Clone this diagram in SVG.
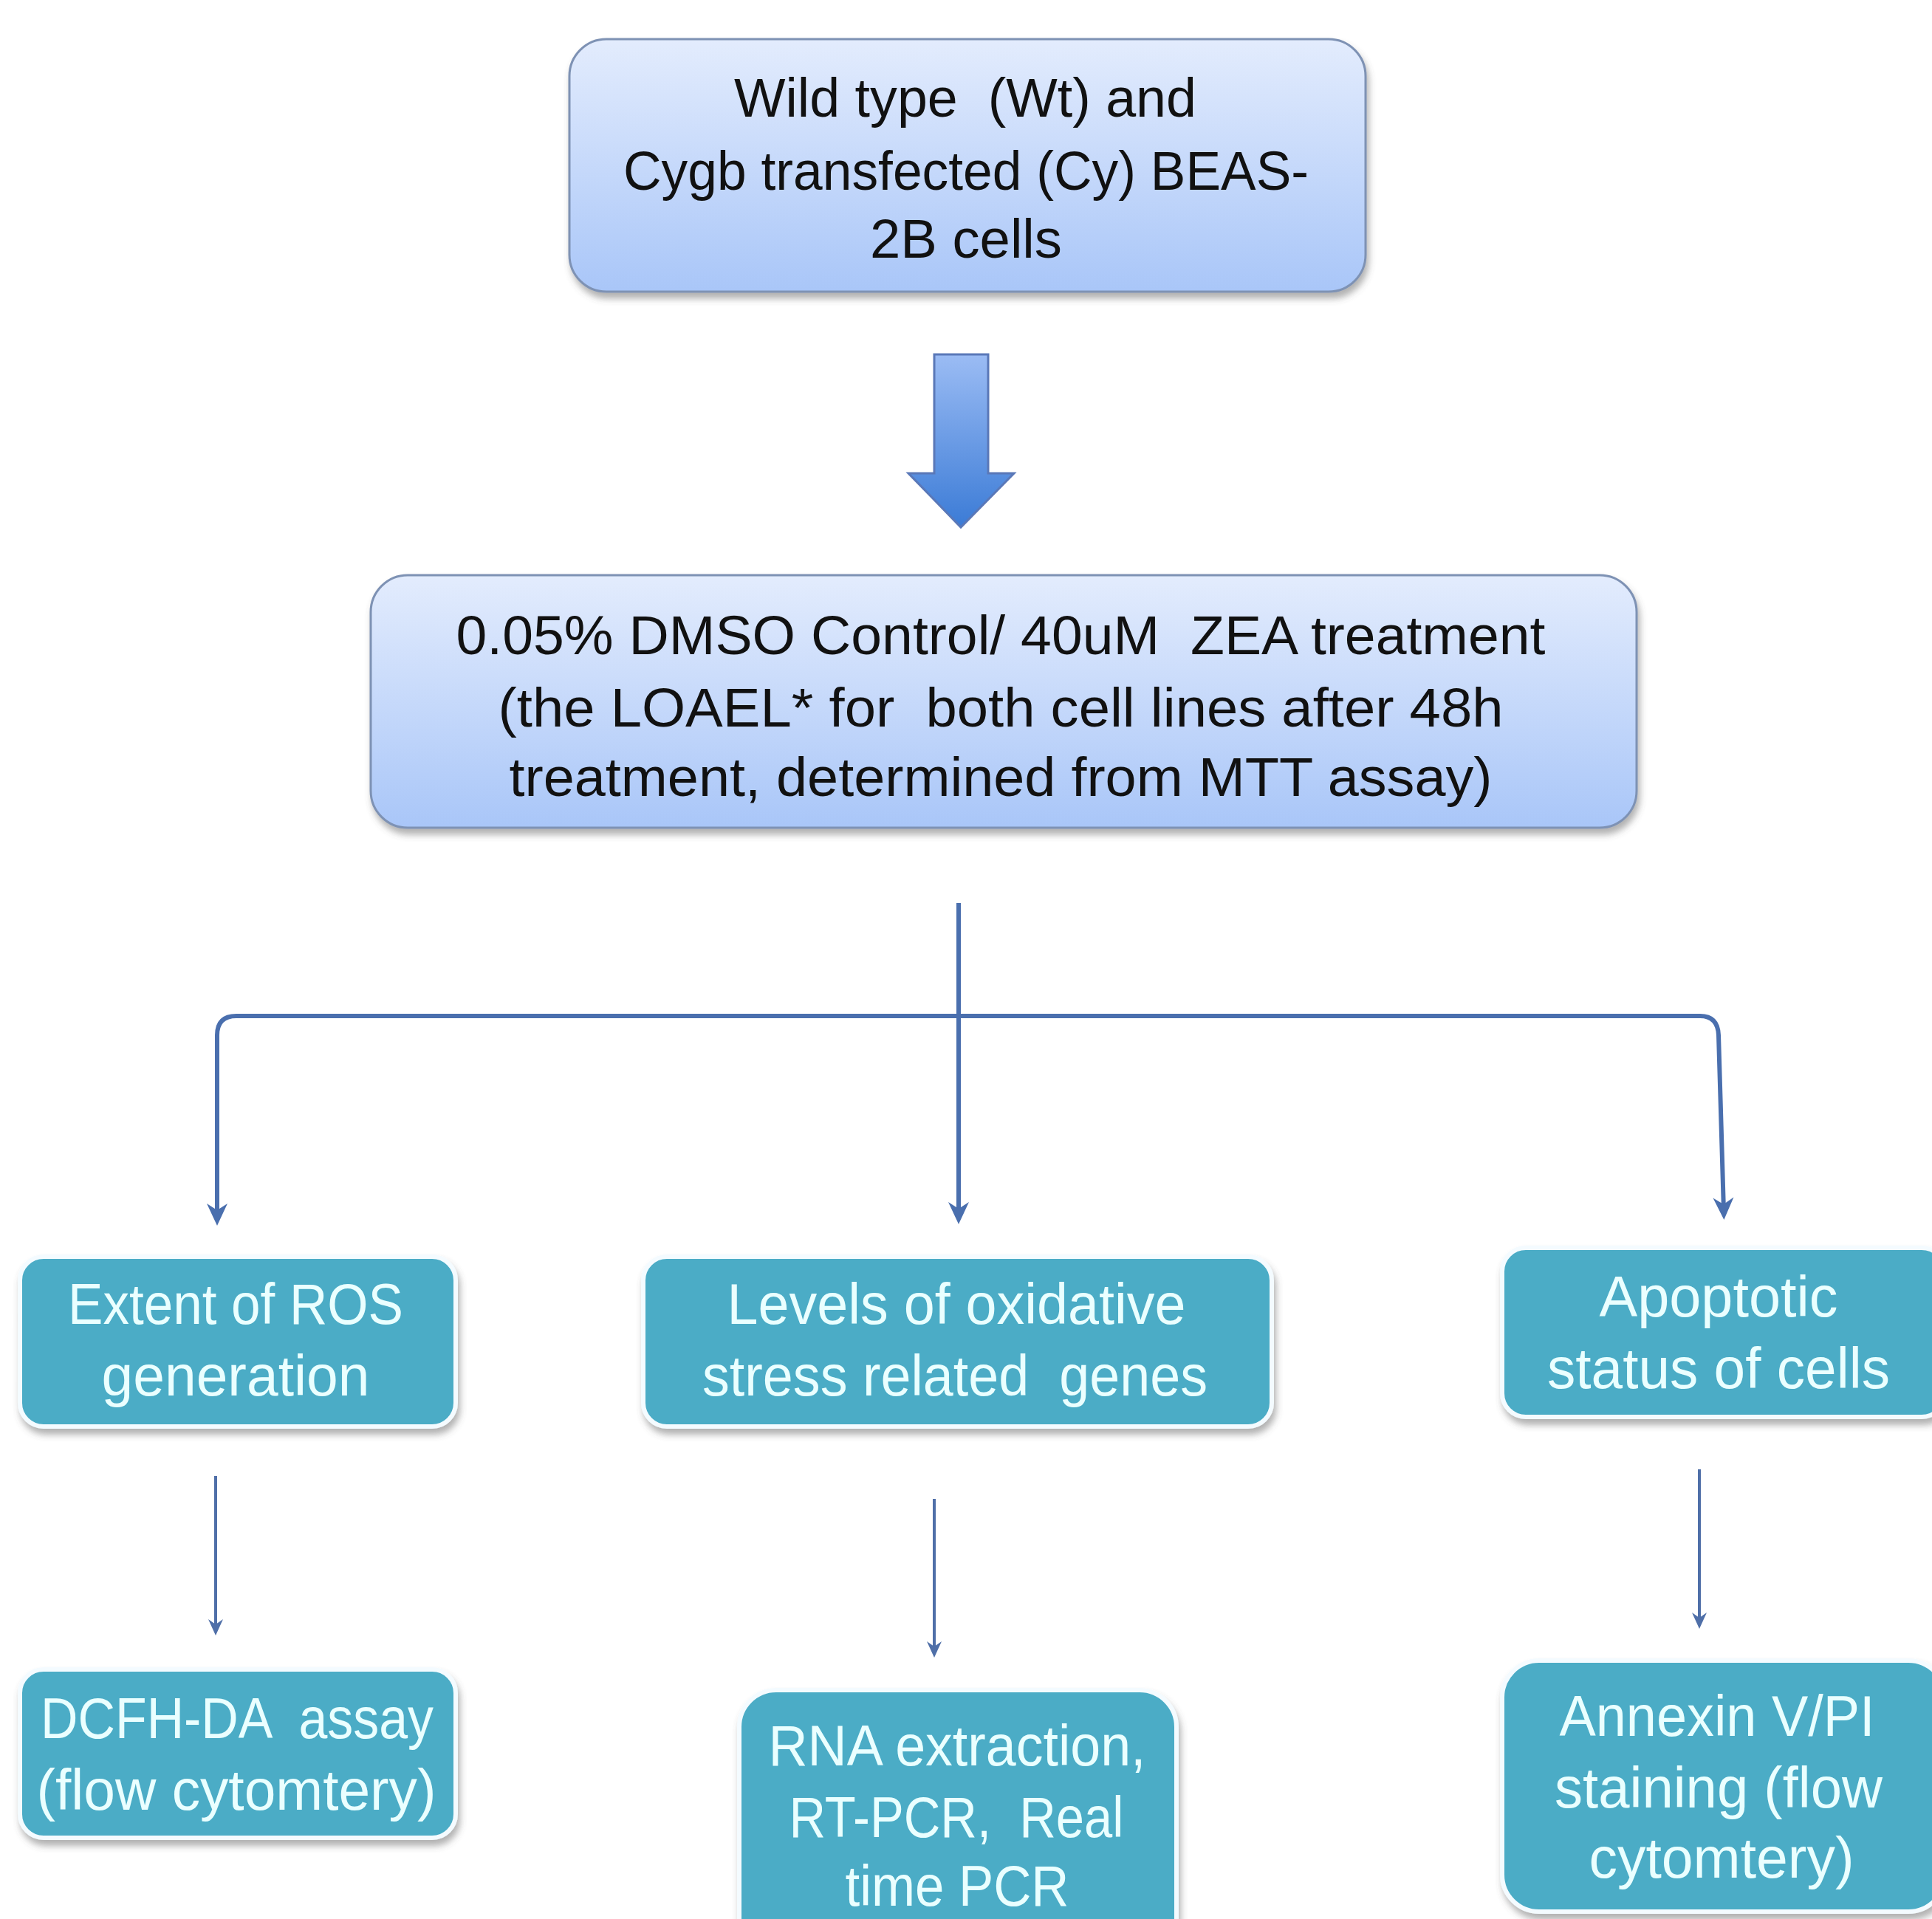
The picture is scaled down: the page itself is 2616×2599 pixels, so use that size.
<svg xmlns="http://www.w3.org/2000/svg" width="2616" height="2599" viewBox="0 0 2616 2599">
<defs>
<linearGradient id="gBox" x1="0" y1="0" x2="0" y2="1">
<stop offset="0" stop-color="#e3ecfd"/>
<stop offset="1" stop-color="#a9c6f8"/>
</linearGradient>
<linearGradient id="gArrow" x1="0" y1="0" x2="0" y2="1">
<stop offset="0" stop-color="#9bbcf4"/>
<stop offset="1" stop-color="#3b7bd6"/>
</linearGradient>
<filter id="sh" x="-10%" y="-10%" width="120%" height="130%">
<feDropShadow dx="3" dy="8" stdDeviation="5" flood-color="#555" flood-opacity="0.45"/>
</filter>
<marker id="ah" markerWidth="34" markerHeight="34" refX="20" refY="17" orient="auto" markerUnits="userSpaceOnUse" viewBox="0 0 34 34">
<path d="M2 3 L32 17 L2 31 L11 17 Z" fill="#4a6fae"/>
</marker>
<marker id="ahs" markerWidth="24" markerHeight="24" refX="14" refY="12" orient="auto" markerUnits="userSpaceOnUse" viewBox="0 0 24 24">
<path d="M1 2 L23 12 L1 22 L8 12 Z" fill="#4f6fa8"/>
</marker>
</defs>
<style>
text{white-space:pre}
.top{fill:url(#gBox);stroke:#7e92b4;stroke-width:3;filter:url(#sh)}
.teal{fill:#4bacc6;stroke:#f4fbff;stroke-width:6;filter:url(#sh)}
.dt{font-family:"Liberation Sans",Arial,sans-serif;font-size:74px;fill:#111;text-anchor:middle}
.wt{font-family:"Liberation Sans",Arial,sans-serif;font-size:78px;fill:#eaffff;text-anchor:middle}
.con{fill:none;stroke:#4a6fae;stroke-width:6}
.thin{fill:none;stroke:#4f6fa8;stroke-width:4}
</style>
<rect width="2616" height="2599" fill="#ffffff"/>

<g id="connectors">
<path class="con" d="M1298 1223 V1646" marker-end="url(#ah)"/>
<path class="con" d="M1298 1376 H320 Q294 1376 294 1402 V1648" marker-end="url(#ah)"/>
<path class="con" d="M1298 1376 H2302 Q2326 1376 2327 1402 L2334 1640" marker-end="url(#ah)"/>
<path class="thin" d="M292 1999 V2206" marker-end="url(#ahs)"/>
<path class="thin" d="M1265 2030 V2236" marker-end="url(#ahs)"/>
<path class="thin" d="M2301 1990 V2197" marker-end="url(#ahs)"/>
</g>

<g id="block-arrow">
<path d="M1265 480 H1338 V641 H1373 L1301 714 L1230 641 H1265 Z" fill="url(#gArrow)" stroke="#5a78b8" stroke-width="3"/>
</g>

<g id="node-cells">
<rect class="top" x="771" y="53" width="1078" height="342" rx="50"/>
<text class="dt" x="1307" y="158" textLength="626" lengthAdjust="spacingAndGlyphs">Wild type  (Wt) and</text>
<text class="dt" x="1308" y="257" textLength="928" lengthAdjust="spacingAndGlyphs">Cygb transfected (Cy) BEAS-</text>
<text class="dt" x="1308" y="349" textLength="260" lengthAdjust="spacingAndGlyphs">2B cells</text>
</g>

<g id="node-treatment">
<rect class="top" x="502" y="779" width="1714" height="342" rx="50"/>
<text class="dt" x="1355" y="886" textLength="1475" lengthAdjust="spacingAndGlyphs">0.05% DMSO Control/ 40uM  ZEA treatment</text>
<text class="dt" x="1355" y="984" textLength="1361" lengthAdjust="spacingAndGlyphs">(the LOAEL* for  both cell lines after 48h</text>
<text class="dt" x="1355" y="1078" textLength="1331" lengthAdjust="spacingAndGlyphs">treatment, determined from MTT assay)</text>
</g>

<g id="node-ros">
<rect class="teal" x="27" y="1702" width="590" height="230" rx="32"/>
<text class="wt" x="319" y="1793" textLength="454" lengthAdjust="spacingAndGlyphs">Extent of ROS</text>
<text class="wt" x="319" y="1890" textLength="363" lengthAdjust="spacingAndGlyphs">generation</text>
</g>

<g id="node-genes">
<rect class="teal" x="871" y="1702" width="851" height="230" rx="32"/>
<text class="wt" x="1295" y="1793" textLength="621" lengthAdjust="spacingAndGlyphs">Levels of oxidative</text>
<text class="wt" x="1293" y="1890" textLength="684" lengthAdjust="spacingAndGlyphs">stress related  genes</text>
</g>

<g id="node-apoptotic">
<rect class="teal" x="2034" y="1690" width="600" height="229" rx="32"/>
<text class="wt" x="2327" y="1783" textLength="323" lengthAdjust="spacingAndGlyphs">Apoptotic</text>
<text class="wt" x="2327" y="1880" textLength="464" lengthAdjust="spacingAndGlyphs">status of cells</text>
</g>

<g id="node-dcfh">
<rect class="teal" x="27" y="2261" width="590" height="228" rx="32"/>
<text class="wt" x="321" y="2354" textLength="532" lengthAdjust="spacingAndGlyphs">DCFH-DA  assay</text>
<text class="wt" x="320" y="2451" textLength="541" lengthAdjust="spacingAndGlyphs">(flow cytomtery)</text>
</g>

<g id="node-rna">
<rect class="teal" x="1001" y="2289" width="592" height="360" rx="50"/>
<text class="wt" x="1296" y="2391" textLength="511" lengthAdjust="spacingAndGlyphs">RNA extraction,</text>
<text class="wt" x="1295" y="2488" textLength="453" lengthAdjust="spacingAndGlyphs">RT-PCR,  Real</text>
<text class="wt" x="1296" y="2581" textLength="303" lengthAdjust="spacingAndGlyphs">time PCR</text>
</g>

<g id="node-annexin">
<rect class="teal" x="2034" y="2249" width="600" height="340" rx="50"/>
<text class="wt" x="2325" y="2351" textLength="427" lengthAdjust="spacingAndGlyphs">Annexin V/PI</text>
<text class="wt" x="2327" y="2448" textLength="444" lengthAdjust="spacingAndGlyphs">staining (flow</text>
<text class="wt" x="2331" y="2543" textLength="359" lengthAdjust="spacingAndGlyphs">cytomtery)</text>
</g>
</svg>
